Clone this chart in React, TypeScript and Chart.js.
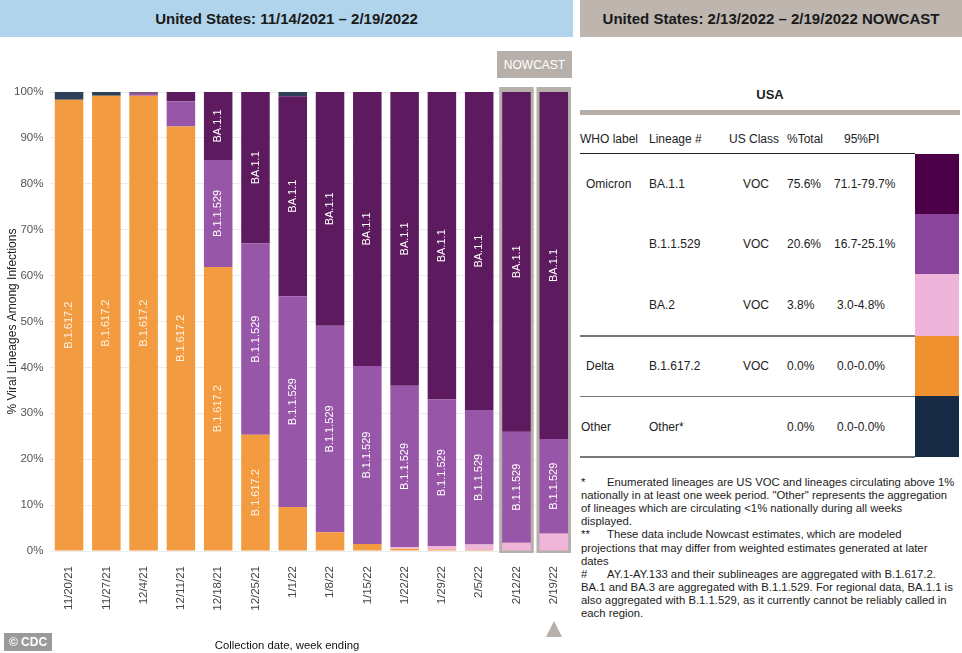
import React, { useEffect, useRef } from "react";
import { Chart, registerables } from "chart.js";
Chart.register(...registerables);

const weeks = ["11/20/21", "11/27/21", "12/4/21", "12/11/21", "12/18/21", "12/25/21", "1/1/22", "1/8/22", "1/15/22", "1/22/22", "1/29/22", "2/5/22", "2/12/22", "2/19/22"];
const deltaB16172 = [98.3, 99.2, 99.2, 92.5, 61.9, 25.3, 9.6, 4.1, 1.5, 0.5, 0.3, 0.2, 0, 0];
const omicronBA2 = [0, 0, 0, 0, 0, 0, 0, 0, 0, 0.3, 0.8, 1.2, 1.8, 3.8];
const omicronB11529 = [0, 0, 0.4, 5.5, 23.3, 41.7, 45.9, 45.0, 38.8, 35.2, 31.9, 29.3, 24.2, 20.6];
const omicronBA11 = [0, 0, 0.3, 2.0, 14.8, 33.0, 43.6, 50.9, 59.7, 64.0, 67.0, 69.3, 74.0, 75.6];
const otherLineages = [1.7, 0.8, 0.1, 0, 0, 0, 0.9, 0, 0, 0, 0, 0, 0, 0];
const nowcastWeeks = ["2/12/22", "2/19/22"];
const yTicks = [0, 10, 20, 30, 40, 50, 60, 70, 80, 90, 100];

const tableWho = ["Omicron", "", "", "Delta", "Other"];
const tableLineage = ["BA.1.1", "B.1.1.529", "BA.2", "B.1.617.2", "Other*"];
const tableClass = ["VOC", "VOC", "VOC", "VOC", ""];
const tableTotal = ["75.6%", "20.6%", "3.8%", "0.0%", "0.0%"];
const tablePI = ["71.1-79.7%", "16.7-25.1%", "3.0-4.8%", "0.0-0.0%", "0.0-0.0%"];
const tableSwatch = ["#4b0047", "#8a449b", "#efb4d9", "#f0912f", "#172b45"];

const footnotes: [string, string][] = [
  ["*", "Enumerated lineages are US VOC and lineages circulating above 1%"],
  ["", "nationally in at least one week period. \"Other\" represents the aggregation"],
  ["", "of lineages which are circulating <1% nationally during all weeks"],
  ["", "displayed."],
  ["**", "These data include Nowcast estimates, which are modeled"],
  ["", "projections that may differ from weighted estimates generated at later"],
  ["", "dates"],
  ["#", "AY.1-AY.133 and their sublineages are aggregated with B.1.617.2."],
  ["", "BA.1 and BA.3 are aggregated with B.1.1.529. For regional data, BA.1.1 is"],
  ["", "also aggregated with B.1.1.529, as it currently cannot be reliably called in"],
  ["", "each region."],
];

const FONT = '"Liberation Sans", Arial, sans-serif';
const NOW_GRAY = "#b7afa9";

const barLabels = {
  id: "barLabels",
  afterDatasetsDraw(chart: any) {
    const ctx = chart.ctx;
    chart.data.datasets.forEach((ds: any, i: number) => {
      if (!ds.showText) return;
      const meta = chart.getDatasetMeta(i);
      meta.data.forEach((el: any, j: number) => {
        const v = ds.data[j];
        if (v < 10) return;
        const { x, y, base } = el.getProps(["x", "y", "base"], true);
        ctx.save();
        ctx.translate(x, (y + base) / 2);
        ctx.rotate(-Math.PI / 2);
        ctx.fillStyle = ds.textColor;
        ctx.font = `11px ${FONT}`;
        ctx.textAlign = "center";
        ctx.textBaseline = "middle";
        ctx.fillText(ds.label, 0, 0);
        ctx.restore();
      });
    });
  },
};

const nowcastFrames = {
  id: "nowcastFrames",
  beforeDatasetsDraw(chart: any) {
    const ctx = chart.ctx;
    const meta = chart.getDatasetMeta(0);
    const area = chart.chartArea;
    nowcastWeeks.forEach((w) => {
      const idx = weeks.indexOf(w);
      const el = meta.data[idx];
      if (!el) return;
      const { x, width } = el.getProps(["x", "width"], true);
      ctx.save();
      ctx.fillStyle = NOW_GRAY;
      ctx.fillRect(x - width / 2 - 3, area.top - 5, width + 6, area.bottom - area.top + 7);
      ctx.restore();
    });
  },
};

function LineageChart() {
  const ref = useRef<HTMLCanvasElement>(null);
  useEffect(() => {
    if (!ref.current) return;
    const mk = (label: string, data: number[], color: string, showText: boolean, textColor = "#ffffff") => ({
      label,
      data,
      backgroundColor: color,
      borderWidth: 0,
      barPercentage: 0.765,
      categoryPercentage: 1,
      showText,
      textColor,
    });
    const chart = new Chart(ref.current, {
      type: "bar",
      data: {
        labels: weeks,
        datasets: [
          mk("B.1.617.2", deltaB16172, "#f29b40", true, "#fdf1e0"),
          mk("BA.2", omicronBA2, "#f0b6d9", false),
          mk("B.1.1.529", omicronB11529, "#9856a8", true),
          mk("BA.1.1", omicronBA11, "#5e1a5e", true),
          mk("Other", otherLineages, "#2e4159", false),
        ] as any,
      },
      options: {
        responsive: false,
        animation: false,
        layout: { padding: { left: 0, right: 7.6, top: 52, bottom: 0 } },
        plugins: { legend: { display: false }, tooltip: { enabled: false } },
        scales: {
          x: {
            stacked: true,
            grid: { display: false },
            border: { display: false },
            ticks: { maxRotation: 90, minRotation: 90, padding: 7, color: "#444", font: { size: 11.5, family: FONT } },
            afterFit: (s: any) => { s.height = 102; },
          },
          y: {
            stacked: true,
            min: 0,
            max: 100,
            afterBuildTicks: (s: any) => { s.ticks = yTicks.map((v) => ({ value: v })); },
            ticks: { callback: (v: any) => v + "%", padding: 7, color: "#555", font: { size: 11.5, family: FONT } },
            grid: { color: "#ececec", drawTicks: false },
            border: { display: false },
            title: { display: true, text: "% Viral Lineages Among Infections", padding: { top: 5 }, color: "#222", font: { size: 12, family: FONT } },
            afterFit: (s: any) => { s.width = 50.4; },
          },
        },
      } as any,
      plugins: [nowcastFrames, barLabels],
    });
    return () => chart.destroy();
  }, []);
  return <canvas ref={ref} width={580} height={613} style={{ position: "absolute", left: 0, top: 40 }} />;
}

export default function App() {
  const abs = (o: any) => ({ position: "absolute" as const, ...o });
  const rowY = [184, 244, 305, 366, 427];
  const swY = [154, 214, 274, 335.5, 396, 457];
  return (
    <div style={{ position: "absolute", left: 0, top: 0, width: 962, height: 653, background: "#fff", overflow: "hidden", fontFamily: FONT, color: "#222" }}>
      <div style={abs({ left: 0, top: 0, width: 573, height: 37, background: "#b0d4ec", display: "flex", alignItems: "center", justifyContent: "center", fontWeight: "bold", fontSize: 15, color: "#1a1a1a" })}>
        United States: 11/14/2021 – 2/19/2022
      </div>
      <div style={abs({ left: 580, top: 0, width: 382, height: 37, background: "#bdb5ae", display: "flex", alignItems: "center", justifyContent: "center", fontWeight: "bold", fontSize: 15, color: "#1a1a1a" })}>
        United States: 2/13/2022 – 2/19/2022 NOWCAST
      </div>
      <LineageChart />
      <div style={abs({ left: 497, top: 51, width: 75, height: 27, background: NOW_GRAY, color: "#fff", fontSize: 12, display: "flex", alignItems: "center", justifyContent: "center" })}>NOWCAST</div>
      <div style={abs({ left: 546, top: 621, width: 0, height: 0, borderLeft: "8px solid transparent", borderRight: "8px solid transparent", borderBottom: `16px solid ${NOW_GRAY}` })} />
      <div style={abs({ left: 187, top: 638, width: 200, textAlign: "center", fontSize: 11.3, color: "#111", lineHeight: "14px" })}>Collection date, week ending</div>
      <div style={abs({ left: 4, top: 633, width: 48, height: 18, background: "#9a9a9a", color: "#fff", fontWeight: "bold", fontSize: 12, display: "flex", alignItems: "center", justifyContent: "center" })}>© CDC</div>

      <div style={abs({ left: 740, top: 87, width: 60, textAlign: "center", fontWeight: "bold", fontSize: 13, lineHeight: "16px" })}>USA</div>
      <div style={abs({ left: 580, top: 110, width: 380, height: 5, background: "#b5aea8" })} />
      {[["WHO label", 580], ["Lineage #", 649], ["US Class", 729], ["%Total", 787], ["95%PI", 844]].map(([t, x]) => (
        <div key={t as string} style={abs({ left: x, top: 131, fontSize: 12, lineHeight: "16px", whiteSpace: "nowrap" })}>{t}</div>
      ))}
      <div style={abs({ left: 580, top: 153, width: 335, height: 1, background: "#222" })} />
      {tableLineage.map((lin, i) => (
        <React.Fragment key={lin}>
          <div style={abs({ left: i === 4 ? 581 : 586, top: rowY[i] - 8, fontSize: 12, lineHeight: "16px" })}>{tableWho[i]}</div>
          <div style={abs({ left: 649, top: rowY[i] - 8, fontSize: 12, lineHeight: "16px" })}>{lin}</div>
          <div style={abs({ left: 719, top: rowY[i] - 8, width: 50, textAlign: "right", fontSize: 12, lineHeight: "16px" })}>{tableClass[i]}</div>
          <div style={abs({ left: 787, top: rowY[i] - 8, fontSize: 12, lineHeight: "16px" })}>{tableTotal[i]}</div>
          <div style={abs({ left: i < 2 ? 834 : 837, top: rowY[i] - 8, fontSize: 12, lineHeight: "16px" })}>{tablePI[i]}</div>
          <div style={abs({ left: 915, top: swY[i], width: 44, height: swY[i + 1] - swY[i], background: tableSwatch[i] })} />
        </React.Fragment>
      ))}
      {[335, 395.5, 456].map((y) => (
        <div key={y} style={abs({ left: 580, top: y, width: 335, height: 1.5, background: "#777" })} />
      ))}
      {footnotes.map(([m, t], i) => (
        <div key={i} style={abs({ left: 581, top: 476 + i * 13.1, fontSize: 11.3, lineHeight: "13px", whiteSpace: "nowrap" })}>
          {m ? <><span style={{ display: "inline-block", width: 26 }}>{m}</span>{t}</> : t}
        </div>
      ))}
    </div>
  );
}
